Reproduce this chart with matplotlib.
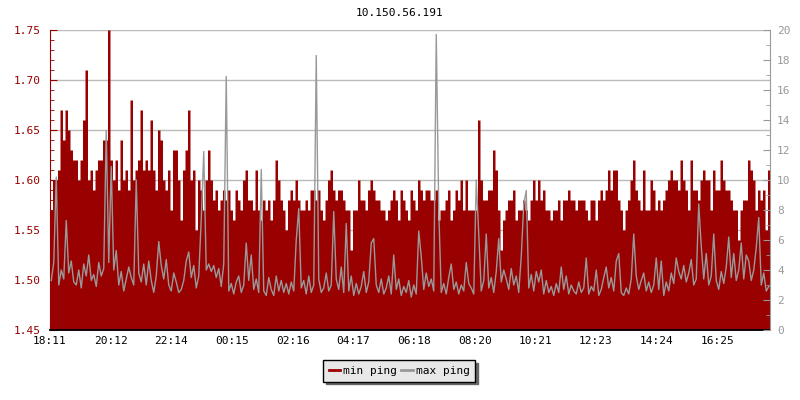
import numpy as np
import matplotlib
matplotlib.use("Agg")
import matplotlib.pyplot as plt

# Datos: una muestra cada 5 minutos desde 18:11 (24 h)
STEP_MIN = 5
TITLE = "10.150.56.191"
TIME_LABELS = ["18:11", "20:12", "22:14", "00:15", "02:16", "04:17",
               "06:18", "08:20", "10:21", "12:23", "14:24", "16:25"]

min_ping = [
    1.57, 1.60, 1.60, 1.61, 1.67, 1.64, 1.67, 1.65, 1.63, 1.62,
    1.62, 1.60, 1.62, 1.66, 1.71, 1.60, 1.61, 1.59, 1.61, 1.62,
    1.62, 1.64, 1.64, 1.75, 1.62, 1.60, 1.62, 1.59, 1.64, 1.60,
    1.61, 1.59, 1.68, 1.60, 1.61, 1.62, 1.67, 1.61, 1.62, 1.61,
    1.66, 1.61, 1.59, 1.65, 1.64, 1.60, 1.59, 1.61, 1.57, 1.63,
    1.63, 1.60, 1.56, 1.61, 1.63, 1.67,
    1.60, 1.61, 1.55, 1.60, 1.59, 1.57, 1.60, 1.63, 1.60, 1.58,
    1.59, 1.57, 1.58, 1.59, 1.58, 1.59, 1.57, 1.56, 1.59, 1.58,
    1.57, 1.60, 1.61, 1.58, 1.58, 1.57, 1.61, 1.57, 1.56, 1.58,
    1.57, 1.58, 1.56, 1.58, 1.62, 1.60, 1.58, 1.57, 1.55, 1.58,
    1.59, 1.58, 1.60, 1.58, 1.57, 1.57, 1.58, 1.57, 1.59, 1.59,
    1.58, 1.59, 1.57, 1.56, 1.58, 1.60,
    1.61, 1.59, 1.58, 1.59, 1.59, 1.58, 1.57, 1.57, 1.53, 1.57,
    1.57, 1.60, 1.58, 1.58, 1.57, 1.59, 1.60, 1.59, 1.58, 1.58,
    1.57, 1.57, 1.56, 1.57, 1.58, 1.59, 1.58, 1.56, 1.59, 1.58,
    1.57, 1.56, 1.59, 1.58, 1.57, 1.60, 1.59, 1.58, 1.59, 1.59,
    1.58, 1.58, 1.59, 1.56, 1.57, 1.57, 1.58, 1.59, 1.56, 1.57,
    1.59, 1.58, 1.60, 1.57, 1.60, 1.57,
    1.57, 1.57, 1.57, 1.66, 1.60, 1.58, 1.58, 1.59, 1.59, 1.63,
    1.61, 1.57, 1.53, 1.56, 1.57, 1.58, 1.58, 1.59, 1.56, 1.57,
    1.57, 1.58, 1.57, 1.56, 1.58, 1.60, 1.58, 1.60, 1.58, 1.59,
    1.57, 1.57, 1.56, 1.57, 1.57, 1.58, 1.56, 1.58, 1.58, 1.59,
    1.58, 1.58, 1.57, 1.58, 1.58, 1.58, 1.57, 1.56, 1.58, 1.58,
    1.56, 1.58, 1.59, 1.58, 1.59, 1.61,
    1.59, 1.61, 1.61, 1.58, 1.57, 1.55, 1.57, 1.58, 1.60, 1.62,
    1.59, 1.58, 1.57, 1.61, 1.57, 1.57, 1.60, 1.59, 1.57, 1.58,
    1.57, 1.58, 1.59, 1.60, 1.61, 1.60, 1.60, 1.59, 1.62, 1.60,
    1.59, 1.57, 1.62, 1.59, 1.59, 1.58, 1.60, 1.61, 1.60, 1.60,
    1.57, 1.61, 1.59, 1.59, 1.62, 1.60, 1.59, 1.59, 1.58, 1.57,
    1.57, 1.54, 1.57, 1.58, 1.58, 1.62,
    1.61, 1.60, 1.57, 1.59, 1.58, 1.59, 1.55, 1.61,
]

max_ping = [
    3.3, 4.5, 10.2, 3.0, 4.0, 3.4, 7.3, 3.8, 4.6, 3.2,
    3.0, 4.0, 2.8, 4.4, 3.6, 5.0, 3.3, 3.7, 2.9, 4.5,
    3.6, 4.1, 13.3, 4.5, 10.9, 4.0, 5.3, 3.0, 3.9, 2.6,
    3.4, 4.2, 3.5, 3.0, 10.0, 3.8, 3.2, 4.4, 3.0, 4.6,
    3.3, 2.5, 3.6, 5.9, 4.3, 3.4, 4.7, 3.0, 2.6, 3.8,
    3.2, 2.5, 2.7, 3.3, 4.6, 5.2,
    3.5, 4.3, 2.8, 3.6, 7.4, 11.9, 4.0, 4.4, 3.9, 4.3,
    3.5, 4.1, 2.9, 4.4, 16.9, 2.6, 3.1, 2.4, 3.2, 3.6,
    2.5, 3.0, 5.8, 3.3, 5.0, 2.7, 3.4, 2.5, 10.7, 2.6,
    2.3, 3.5, 2.7, 2.3, 3.6, 2.6, 3.3, 2.5, 3.1, 2.4,
    3.2, 2.6, 6.0, 8.1, 2.8, 3.3, 2.4, 3.6, 2.5, 3.0,
    18.3, 3.4, 2.5, 2.8, 3.8, 2.6,
    3.0, 7.9, 3.4, 2.7, 4.2, 2.5, 7.1, 2.6, 3.6, 2.3,
    3.1, 2.4, 2.9, 3.9, 2.5, 3.2, 5.8, 6.1, 3.0, 2.5,
    3.4, 2.4, 2.8, 3.6, 2.4, 5.0, 2.7, 3.4, 2.3, 2.9,
    2.5, 3.3, 2.2, 3.0, 2.4, 6.6, 4.9, 2.7, 3.8, 2.9,
    3.4, 2.6, 19.7, 8.0, 2.5, 3.1, 2.4, 3.5, 4.4, 2.7,
    3.2, 2.4, 3.0, 2.6, 4.5, 3.1,
    2.8, 2.4, 10.0, 6.4, 2.6, 3.3, 6.4, 2.8, 3.5, 2.5,
    3.9, 6.1, 3.2, 4.0, 3.4, 2.7, 4.1, 3.0, 3.6, 2.5,
    4.9, 8.4, 9.3, 2.8, 3.7, 2.6, 3.9, 3.2, 4.0, 2.4,
    3.3, 2.5, 2.9, 2.3, 3.1, 2.5, 4.2, 2.7, 3.6, 2.4,
    3.0, 2.6, 2.4, 3.2, 2.5, 2.8, 4.8, 2.4, 2.9, 2.6,
    4.0, 2.3, 2.7, 3.5, 4.2, 2.8,
    3.5, 2.6, 4.6, 5.1, 2.5, 2.3, 2.8, 2.4, 3.4, 6.4,
    3.6, 2.7, 3.3, 3.8, 2.6, 3.2, 2.5, 3.0, 4.8, 2.7,
    4.6, 2.3, 3.2, 2.6, 3.8, 3.1, 4.8, 3.9, 3.4, 4.3,
    3.2, 3.8, 4.7, 3.0, 3.4, 8.4, 5.6, 3.4, 5.1, 3.0,
    3.6, 6.4, 3.3, 2.7, 3.9, 3.1, 4.2, 6.2, 3.5, 5.1,
    3.3, 4.0, 5.8, 3.4, 5.0, 4.6,
    3.3, 4.0, 5.5, 7.5, 3.0, 3.8, 2.6, 2.9,
]

RED = "#990000"
GREY = "#999999"
plt.rcParams['font.family'] = ['DejaVu Sans Mono']
plt.rcParams['font.size'] = 8

x = np.arange(len(min_ping)) * STEP_MIN
x_end = len(min_ping) * STEP_MIN
tick_pos = np.arange(len(TIME_LABELS)) * (7280 / 60.0)

fig = plt.figure(figsize=(8, 4), dpi=100)
ax = fig.add_axes([0.0625, 0.175, 0.9, 0.75])
ax2 = ax.twinx()

# min ping: area rellena
ax.fill_between(np.append(x, x_end), 1.45, np.append(min_ping, min_ping[-1]),
                step='post', color=RED, linewidth=0, label="min ping", zorder=2)
ax.set_xlim(0, x_end)
ax.set_ylim(1.45, 1.75)
ax.set_yticks(np.arange(1.45, 1.751, 0.05))
ax.set_yticks(np.arange(1.45, 1.751, 0.01), minor=True)
ax.yaxis.set_major_formatter(matplotlib.ticker.FormatStrFormatter('%.2f'))
ax.grid(axis='y', color='#bbbbbb', linewidth=1)
ax.set_axisbelow(True)
ax.set_xticks(tick_pos)
ax.set_xticklabels(TIME_LABELS)
ax.tick_params(axis='y', which='both', direction='in', colors=RED, pad=7)
ax.tick_params(axis='y', which='major', length=5)
ax.tick_params(axis='y', which='minor', length=3)
ax.tick_params(axis='x', direction='in', length=5, colors='black', pad=4)

# max ping: linea gris en eje derecho
ax2.plot(x + STEP_MIN / 2, max_ping, color=GREY, linewidth=1, label="max ping")
ax2.set_ylim(0, 20)
ax2.set_yticks(np.arange(0, 21, 2))
ax2.set_yticks(np.arange(0, 21, 1), minor=True)
ax2.tick_params(axis='y', which='both', direction='in', colors=GREY, pad=5)
ax2.tick_params(axis='y', which='major', length=5)
ax2.tick_params(axis='y', which='minor', length=3)

for a in (ax, ax2):
    a.spines['top'].set_visible(False)
ax.spines['right'].set_visible(False)
ax2.spines['left'].set_visible(False)
ax2.spines['bottom'].set_visible(False)
ax.spines['left'].set_color(RED)
ax2.spines['right'].set_color(GREY)
ax.spines['bottom'].set_color('black')
ax.spines['bottom'].set_linewidth(1.3)

fig.text(0.5, 1 - 13 / 400, TITLE, ha='center', va='center', fontsize=8)

handles = [plt.Line2D([], [], color=RED, linewidth=2),
           plt.Line2D([], [], color=GREY, linewidth=2)]
leg = fig.legend(handles, ["min ping", "max ping"], loc='center',
                 bbox_to_anchor=(0.499, 1 - 371 / 400), ncol=2,
                 frameon=True, fancybox=False, shadow={'color': '#666666', 'alpha': 1},
                 framealpha=1, facecolor='#e8e8e8', edgecolor='black',
                 handlelength=1.0, handletextpad=0.3, columnspacing=0.4,
                 borderpad=0.5, fontsize=8)
leg.get_frame().set_linewidth(1)

fig.savefig("out.png", dpi=100)
